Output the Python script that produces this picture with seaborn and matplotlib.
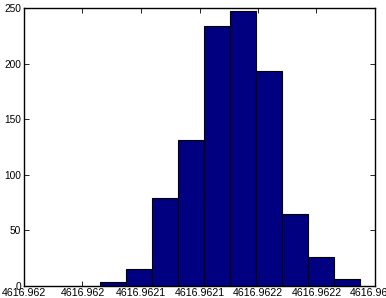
import matplotlib
matplotlib.use("Agg")
import matplotlib.pyplot as plt
import seaborn as sns
import pandas as pd
import numpy as np

# ---- data ----
bin_edges = [4616.962065, 4616.9620872, 4616.9621094, 4616.9621316, 4616.9621538,
             4616.962176, 4616.9621982, 4616.9622204, 4616.9622426, 4616.9622648,
             4616.962287]
counts = [4, 15, 79, 131, 234, 247, 193, 65, 26, 6]
x_ticks = [4616.96200, 4616.96205, 4616.96210, 4616.96215, 4616.96220, 4616.96225, 4616.96230]
x_tick_labels = ["4616.962", "4616.962", "4616.9621", "4616.9621", "4616.9622", "4616.9622", "4616.9623"]
y_ticks = [0, 50, 100, 150, 200, 250]

centers = [(a + b) / 2 for a, b in zip(bin_edges[:-1], bin_edges[1:])]
df = pd.DataFrame({"value": centers, "count": counts})

sns.set_theme(style="white")
plt.rcParams["font.family"] = ["Liberation Sans", "DejaVu Sans"]

fig = plt.figure(figsize=(3.86, 2.98), dpi=100)
ax = fig.add_axes([24 / 386, 1 - 286 / 298, (375 - 24) / 386, (286 - 8) / 298])

sns.histplot(data=df, x="value", weights="count", bins=bin_edges, ax=ax,
             color="#000080", edgecolor="black", linewidth=0.8, alpha=1.0)

ax.set_xlim(x_ticks[0], x_ticks[-1])
ax.set_ylim(0, 250)
ax.set_xticks(x_ticks)
ax.set_xticklabels(x_tick_labels)
ax.set_yticks(y_ticks)
ax.set_xlabel("")
ax.set_ylabel("")
for s in ax.spines.values():
    s.set_visible(True)
    s.set_color("black")
    s.set_linewidth(1.0)
ax.tick_params(axis="both", direction="in", length=3.5, width=0.6, colors="black",
               top=True, right=True, bottom=True, left=True, pad=2)
ax.tick_params(axis="y", labelsize=7.3)
ax.tick_params(axis="x", labelsize=7.7, pad=1.2)
ax.grid(False)

fig.savefig("out.png", dpi=100, facecolor="white")
